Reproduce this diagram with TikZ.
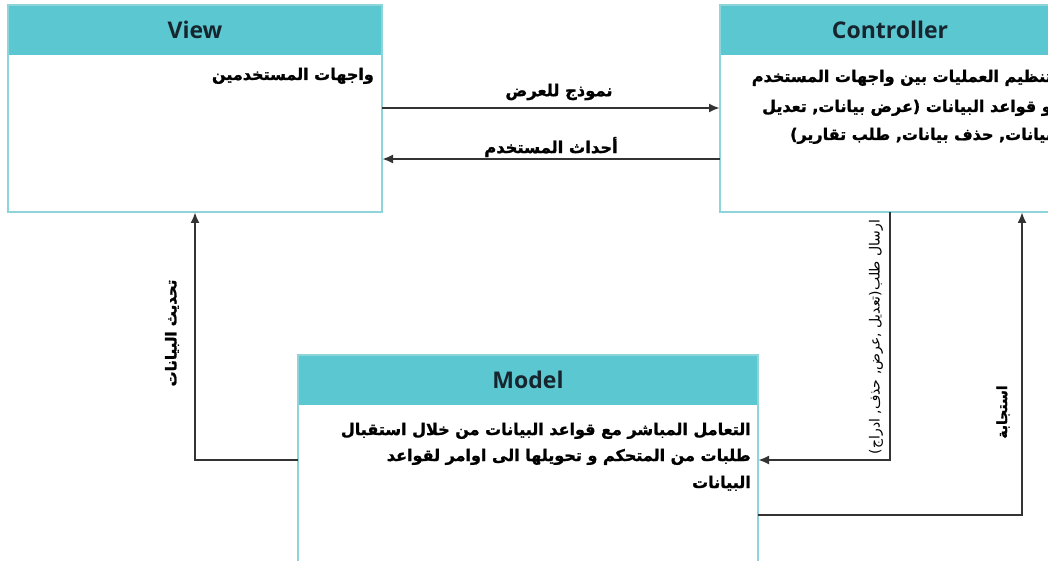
\documentclass[tikz,border=0pt]{standalone}
\usepackage{fontspec}
\usetikzlibrary{arrows.meta,calc}
\TeXXeTstate=1
\newfontfamily\arfont[Script=Arabic,BoldFeatures={FakeBold=1.4}]{DejaVu Sans}
\newfontfamily\titlefont{Open Sans}
\definecolor{headteal}{HTML}{5BC7D1}
\definecolor{edgeteal}{HTML}{8DD5DB}
\definecolor{ink}{HTML}{333333}
\definecolor{titleink}{HTML}{17252F}

\begin{document}
\begin{tikzpicture}[x=1pt,y=-1pt,
  head/.style={fill=headteal, inner sep=0pt, outer sep=0pt, anchor=north west,
    minimum height=50pt, font=\titlefont\bfseries\fontsize{23}{26}\selectfont, text=titleink},
  box/.style={draw=edgeteal, line width=1.5pt, inner sep=0pt, outer sep=0pt, anchor=north west},
  arr/.style={draw=ink, line width=2.2pt, -{Latex[length=11pt,width=9pt]}},
  body/.style={font=\arfont\bfseries\fontsize{16}{18}\selectfont, text=black, inner sep=0pt, anchor=base east},
  lbl/.style={font=\arfont\bfseries\fontsize{16.3}{19}\selectfont, text=black, inner sep=0pt},
  thinlbl/.style={font=\arfont\fontsize{14}{17}\selectfont, text=black, inner sep=0pt},
]
\useasboundingbox (0,0) rectangle (1048,561);
\clip (0,0) rectangle (1048,561);
\fill[white] (0,0) rectangle (1048,561);

% View
\node[head, minimum width=374pt] (viewhead) at (8,5) {View};
\node[box, minimum width=374pt, minimum height=207pt] (view) at (8,5) {};
\node[body] (viewtext) at (374,80) {\beginR واجهات المستخدمين\endR};

% Controller
\node[head, minimum width=340pt] (ctrlhead) at (720,5) {Controller};
\node[box, minimum width=340pt, minimum height=207pt] (ctrl) at (720,5) {};
\node[body] (ctrltext1) at (1052,82) {\beginR تنظيم العمليات بين واجهات المستخدم\endR};
\node[body] (ctrltext2) at (1052,112) {\beginR و قواعد البيانات (عرض بيانات, تعديل\endR};
\node[body] (ctrltext3) at (1052,140) {\beginR بيانات, حذف بيانات, طلب تقارير)\endR};

% Model
\node[head, minimum width=460pt] (modelhead) at (298,355) {Model};
\node[box, minimum width=460pt, minimum height=230pt] (model) at (298,355) {};
\node[body] (modeltext1) at (751,435) {\beginR التعامل المباشر مع قواعد البيانات من خلال استقبال\endR};
\node[body] (modeltext2) at (751,461) {\beginR طلبات من المتحكم و تحويلها الى اوامر لقواعد\endR};
\node[body] (modeltext3) at (751,488) {\beginR البيانات\endR};

% View <-> Controller
\coordinate (vc) at (0,108);
\coordinate (cv) at (0,159);
\draw[arr] (view.east |- vc) -- (ctrl.west |- vc);
\draw[arr] (ctrl.west |- cv) -- (view.east |- cv);
\node[lbl] (vclabel) at (559,92) {\beginR نموذج للعرض\endR};
\node[lbl] (cvlabel) at (551,147) {\beginR أحداث المستخدم\endR};

% Model -> View
\coordinate (mv) at (195,460);
\draw[arr] (model.west |- mv) -| (view.south -| mv);
\node[lbl, rotate=90, font=\arfont\bfseries\fontsize{15}{18}\selectfont] (mvlabel) at (172,333) {\beginR تحديث البيانات\endR};

% Controller -> Model
\coordinate (cm) at (890,460);
\draw[arr] (ctrl.south -| cm) |- (model.east |- cm);
\node[thinlbl, rotate=90] (cmlabel) at (876,337) {\beginR ارسال طلب(تعديل ,عرض, حذف, ادراج)\endR};

% Model -> Controller
\coordinate (mc) at (1022,515);
\draw[arr] (model.east |- mc) -| (ctrl.south -| mc);
\node[lbl, rotate=90, font=\arfont\bfseries\fontsize{14}{17}\selectfont] (mclabel) at (1003,412) {\beginR استجابة\endR};
\end{tikzpicture}
\end{document}
